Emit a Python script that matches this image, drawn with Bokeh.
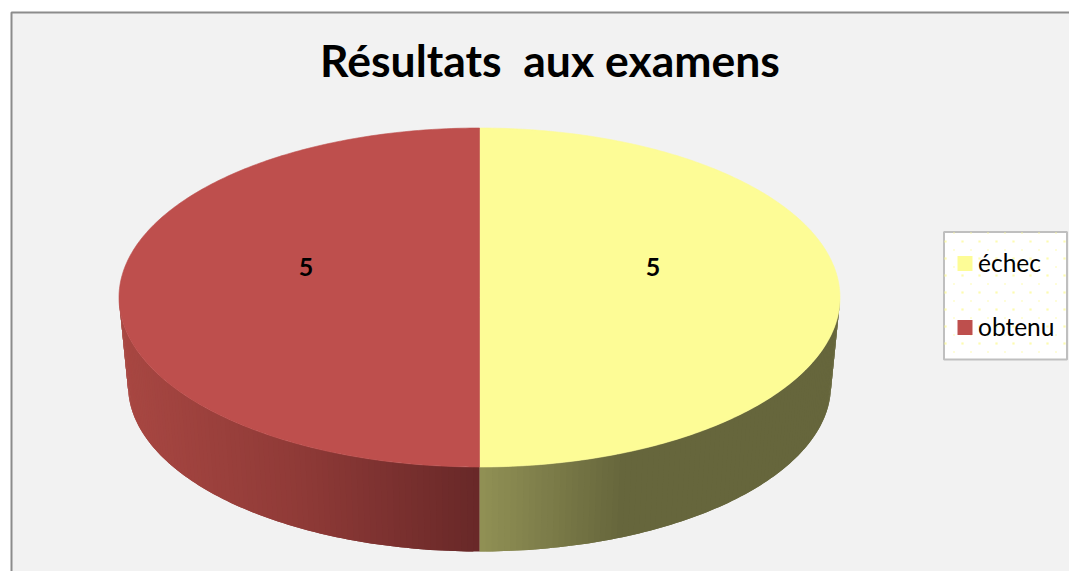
import numpy as np
from bokeh.plotting import figure
from bokeh.models import Range1d
from bokeh.core.properties import value
from bokeh.embed import file_html
from bokeh.resources import INLINE

# data
categories = ["échec", "obtenu"]
values = [5, 5]
title_text = "Résultats \u00a0aux examens"
top_colors = ["#FDFC96", "#BE4F4D"]
# side gradient stops: (relative x in [-1, 1], rgb)
side_stops = {
    "échec": [(0.0, (145, 145, 85)), (0.40, (102, 102, 60)), (1.0, (102, 102, 60))],
    "obtenu": [(-1.0, (168, 71, 66)), (-0.5, (143, 58, 55)), (0.0, (104, 40, 40))],
}

W, H = 1069, 571
OX, OY = 0, 0
p = figure(width=W, height=H, output_backend="svg", toolbar_location=None,
           x_range=Range1d(OX, OX + W), y_range=Range1d(OY + H, OY),
           min_border=0, min_border_left=0, min_border_right=0,
           min_border_top=0, min_border_bottom=0)
p.axis.visible = False
p.grid.visible = False
p.outline_line_color = None
p.background_fill_color = "white"
p.border_fill_color = "white"

# chart area
p.quad(left=[11], right=[1200], top=[12], bottom=[700],
       fill_color="#F2F2F2", line_color="#8C8C8C", line_width=2)

# pie geometry
cx, cy, rx, ry = 479.0, 297.0, 360.5, 169.5
bcx, bcy, brx, bry = 479.0, 385.0, 351.5, 166.0

fracs = np.array(values, dtype=float) / sum(values)
ends = np.cumsum(fracs) * 2 * np.pi
starts = ends - fracs * 2 * np.pi


def interp_color(stops, u):
    xs = [s[0] for s in stops]
    return "#%02x%02x%02x" % tuple(
        int(round(np.interp(u, xs, [s[1][k] for s in stops]))) for k in range(3)
    )


# side wall: angle a is clockwise from 12 o'clock, visible for pi/2 < a < 3pi/2.
# Each strip overlaps the next one so no seams show between them.
xs, ys, cols = [], [], []
for name, a0, a1 in zip(categories, starts, ends):
    lo, hi = max(a0, np.pi / 2), min(a1, 3 * np.pi / 2)
    edges = np.linspace(lo, hi, 91)
    order = range(len(edges) - 1)
    for i in order:
        aa = edges[i:min(i + 3, len(edges))]
        tx = cx + rx * np.sin(aa)
        ty = cy - ry * np.cos(aa)
        bx = bcx + brx * np.sin(aa)
        by = bcy - bry * np.cos(aa)
        xs.append(np.r_[tx, bx[::-1]])
        ys.append(np.r_[ty, by[::-1]])
        cols.append(interp_color(side_stops[name], np.sin(edges[i] / 2 + edges[i + 1] / 2)))
p.patches(xs, ys, fill_color=cols, line_color=None)

# top face
for name, col, a0, a1 in zip(categories, top_colors, starts, ends):
    aa = np.linspace(a0, a1, 241)
    wx = np.r_[cx, cx + rx * np.sin(aa)]
    wy = np.r_[cy, cy - ry * np.cos(aa)]
    p.patch(wx, wy, fill_color=col, line_color=col, line_width=0.6)

# data labels
mids = (starts + ends) / 2
p.text(x=cx + 0.4813 * rx * np.sin(mids), y=np.full(len(mids), 266.0),
       text=[str(v) for v in values], text_align="center", text_baseline="middle",
       text_font=value("Lato"), text_font_style="bold", text_font_size="25px",
       text_color="black")

# title
p.text(x=[549.5], y=[59], text=[title_text], text_align="center", text_baseline="middle",
       text_font=value("Lato"), text_font_style="bold", text_font_size="44.5px",
       text_color="black")

# legend
p.quad(left=[943.5], right=[1066.5], top=[231.5], bottom=[359],
       fill_color="white", line_color="#BFBFBF", line_width=2)
gx, gy = np.meshgrid(np.arange(945.0, 1066, 17), np.arange(241.0, 358, 17))
p.scatter(gx.ravel(), gy.ravel(), size=2.2, marker="square",
          fill_color="#FCFA96", line_color=None, fill_alpha=0.75)
hx, hy = np.meshgrid(np.arange(953.5, 1066, 17), np.arange(232.5, 358, 17))
p.scatter(hx.ravel(), hy.ravel(), size=1.8, marker="square",
          fill_color="#FCFA96", line_color=None, fill_alpha=0.4)
leg_y = [263.0, 327.0]
p.quad(left=[957] * 2, right=[972] * 2,
       top=[y - 7.5 for y in leg_y], bottom=[y + 7.5 for y in leg_y],
       fill_color=top_colors, line_color=None)
p.text(x=[977.5] * 2, y=[y - 1.5 for y in leg_y], text=categories, text_align="left", text_baseline="middle",
       text_font=value("Lato"), text_font_size="24.5px", text_color="black")

open("out.html", "w").write(file_html(p, INLINE))
